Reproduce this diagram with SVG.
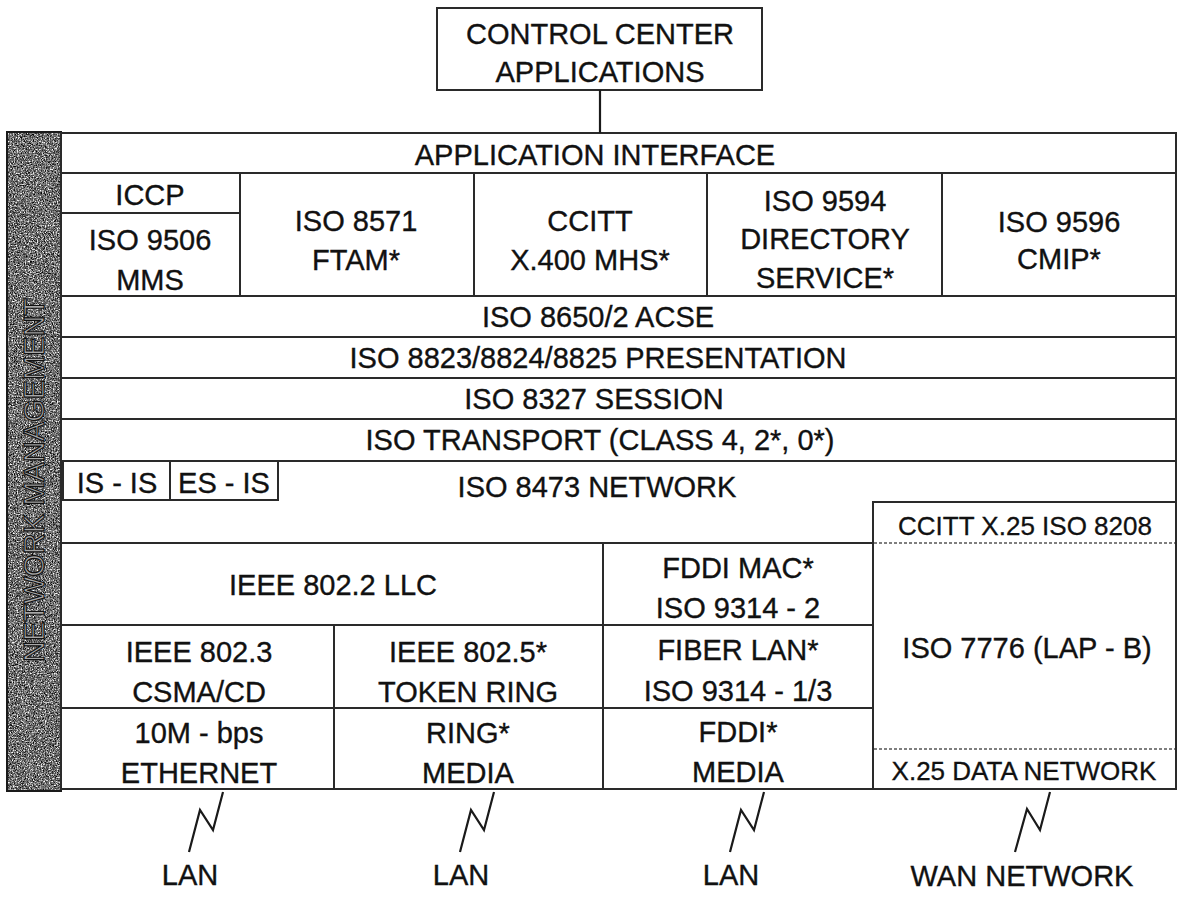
<svg xmlns="http://www.w3.org/2000/svg" width="1181" height="900" viewBox="0 0 1181 900">
<style>
  .cell { fill: #ffffff; stroke: #2a2a2a; stroke-width: 2; }
  .t { font-family: "Liberation Sans", Arial, sans-serif; font-size: 29px; fill: #111; stroke: #111; stroke-width: 0.35; text-anchor: middle; }
  .ts { font-family: "Liberation Sans", Arial, sans-serif; font-size: 26px; fill: #111; stroke: #111; stroke-width: 0.3; text-anchor: middle; }
  .dot { stroke: #555; stroke-width: 1.5; stroke-dasharray: 3 2; fill: none; }
  .conn { stroke: #1a1a1a; stroke-width: 2.2; fill: none; stroke-linejoin: miter; }
  .vt { font-family: "Liberation Sans", Arial, sans-serif; font-size: 29px; fill: #a8a8a8; stroke: #111; stroke-width: 1.1; text-anchor: middle; }
</style>
<defs>
  <filter id="grain" x="0" y="0" width="1" height="1" filterUnits="objectBoundingBox">
    <feTurbulence type="fractalNoise" baseFrequency="0.9" numOctaves="3" seed="7"/>
    <feColorMatrix type="matrix" values="0 0 0 0 0  0 0 0 0 0  0 0 0 0 0  3 0 0 0 -1.2"/>
  </filter>
  <filter id="grain2" x="0" y="0" width="1" height="1" filterUnits="objectBoundingBox">
    <feTurbulence type="fractalNoise" baseFrequency="0.75" numOctaves="2" seed="13"/>
    <feColorMatrix type="matrix" values="0 0 0 0 1  0 0 0 0 1  0 0 0 0 1  3 0 0 0 -1.35"/>
  </filter>
</defs>
<rect width="1181" height="900" fill="#ffffff"/>

<g id="network-management">
  <rect x="7" y="132" width="54" height="659" fill="#6c6c6c"/>
  <rect x="7" y="132" width="54" height="659" fill="#000" filter="url(#grain)"/>
  <rect x="7" y="132" width="54" height="659" fill="#fff" filter="url(#grain2)"/>
  <rect x="7" y="132" width="54" height="659" fill="none" stroke="#1a1a1a" stroke-width="2"/>
  <text class="vt" transform="translate(44,480) rotate(-90)">NETWORK MANAGEMENT</text>
</g>

<g id="control-center">
  <rect class="cell" x="437" y="8" width="325" height="82"/>
  <text class="t" x="600" y="44">CONTROL CENTER</text>
  <text class="t" x="600" y="82">APPLICATIONS</text>
</g>

<g id="application-interface">
  <rect class="cell" x="61" y="133" width="1115" height="40"/>
  <text class="t" x="595" y="165">APPLICATION INTERFACE</text>
</g>

<g id="iccp">
  <rect class="cell" x="61" y="173" width="179" height="40"/>
  <text class="t" x="150" y="205">ICCP</text>
</g>
<g id="iso9506">
  <rect class="cell" x="61" y="213" width="179" height="83"/>
  <text class="t" x="150" y="250">ISO 9506</text>
  <text class="t" x="150" y="290">MMS</text>
</g>
<g id="iso8571">
  <rect class="cell" x="240" y="173" width="234" height="123"/>
  <text class="t" x="356" y="231">ISO 8571</text>
  <text class="t" x="356" y="270">FTAM*</text>
</g>
<g id="ccitt-x400">
  <rect class="cell" x="474" y="173" width="233" height="123"/>
  <text class="t" x="590" y="231">CCITT</text>
  <text class="t" x="590" y="270">X.400 MHS*</text>
</g>
<g id="iso9594">
  <rect class="cell" x="707" y="173" width="235" height="123"/>
  <text class="t" x="825" y="211">ISO 9594</text>
  <text class="t" x="825" y="249">DIRECTORY</text>
  <text class="t" x="825" y="288">SERVICE*</text>
</g>
<g id="iso9596">
  <rect class="cell" x="942" y="173" width="234" height="123"/>
  <text class="t" x="1059" y="232">ISO 9596</text>
  <text class="t" x="1059" y="269">CMIP*</text>
</g>

<g id="acse">
  <rect class="cell" x="61" y="296" width="1115" height="41"/>
  <text class="t" x="598" y="327">ISO 8650/2 ACSE</text>
</g>
<g id="presentation">
  <rect class="cell" x="61" y="337" width="1115" height="41"/>
  <text class="t" x="598" y="368">ISO 8823/8824/8825 PRESENTATION</text>
</g>
<g id="session">
  <rect class="cell" x="61" y="378" width="1115" height="41"/>
  <text class="t" x="594" y="409">ISO 8327 SESSION</text>
</g>
<g id="transport">
  <rect class="cell" x="61" y="419" width="1115" height="42"/>
  <text class="t" x="600" y="450">ISO TRANSPORT (CLASS 4, 2*, 0*)</text>
</g>

<g id="network">
  <path class="cell" d="M61,461 H1176 V502 H873 V543 H61 Z"/>
  <text class="t" x="597" y="497">ISO 8473 NETWORK</text>
</g>
<g id="is-is">
  <rect class="cell" x="63" y="461" width="107" height="39"/>
  <text class="t" x="117" y="493">IS - IS</text>
</g>
<g id="es-is">
  <rect class="cell" x="170" y="461" width="108" height="39"/>
  <text class="t" x="224" y="493">ES - IS</text>
</g>

<g id="llc">
  <rect class="cell" x="61" y="543" width="542" height="82"/>
  <text class="t" x="333" y="595">IEEE 802.2 LLC</text>
</g>
<g id="fddi-mac">
  <rect class="cell" x="603" y="543" width="270" height="82"/>
  <text class="t" x="738" y="578">FDDI MAC*</text>
  <text class="t" x="738" y="618">ISO 9314 - 2</text>
</g>
<g id="ieee8023">
  <rect class="cell" x="61" y="625" width="273" height="83"/>
  <text class="t" x="199" y="662">IEEE 802.3</text>
  <text class="t" x="199" y="702">CSMA/CD</text>
</g>
<g id="ieee8025">
  <rect class="cell" x="334" y="625" width="269" height="83"/>
  <text class="t" x="468" y="662">IEEE 802.5*</text>
  <text class="t" x="468" y="702">TOKEN RING</text>
</g>
<g id="fiber-lan">
  <rect class="cell" x="603" y="625" width="270" height="83"/>
  <text class="t" x="738" y="660">FIBER LAN*</text>
  <text class="t" x="738" y="701">ISO 9314 - 1/3</text>
</g>
<g id="ethernet">
  <rect class="cell" x="61" y="708" width="273" height="81"/>
  <text class="t" x="199" y="743">10M - bps</text>
  <text class="t" x="199" y="783">ETHERNET</text>
</g>
<g id="ring-media">
  <rect class="cell" x="334" y="708" width="269" height="81"/>
  <text class="t" x="468" y="743">RING*</text>
  <text class="t" x="468" y="783">MEDIA</text>
</g>
<g id="fddi-media">
  <rect class="cell" x="603" y="708" width="270" height="81"/>
  <text class="t" x="738" y="742">FDDI*</text>
  <text class="t" x="738" y="782">MEDIA</text>
</g>

<g id="wan">
  <rect class="cell" x="873" y="502" width="303" height="287"/>
  <line class="dot" x1="874" y1="543" x2="1175" y2="543"/>
  <line class="dot" x1="874" y1="749" x2="1175" y2="749"/>
  <text class="ts" x="1025" y="535">CCITT X.25 ISO 8208</text>
  <text class="t" x="1027" y="658">ISO 7776 (LAP - B)</text>
  <text class="ts" x="1024" y="780">X.25 DATA NETWORK</text>
</g>

<g id="connectors">
  <line class="conn" x1="600" y1="90" x2="600" y2="133"/>
  <polyline class="conn" points="223,792 213,830 200,810 189,852"/>
  <polyline class="conn" points="494,792 484,830 471,810 460,852"/>
  <polyline class="conn" points="764,792 754,830 741,810 730,852"/>
  <polyline class="conn" points="1050,792 1040,830 1027,809 1015,852"/>
</g>

<g id="labels">
  <text class="t" x="190" y="885">LAN</text>
  <text class="t" x="461" y="885">LAN</text>
  <text class="t" x="731" y="885">LAN</text>
  <text class="t" x="1022" y="886">WAN NETWORK</text>
</g>
</svg>
